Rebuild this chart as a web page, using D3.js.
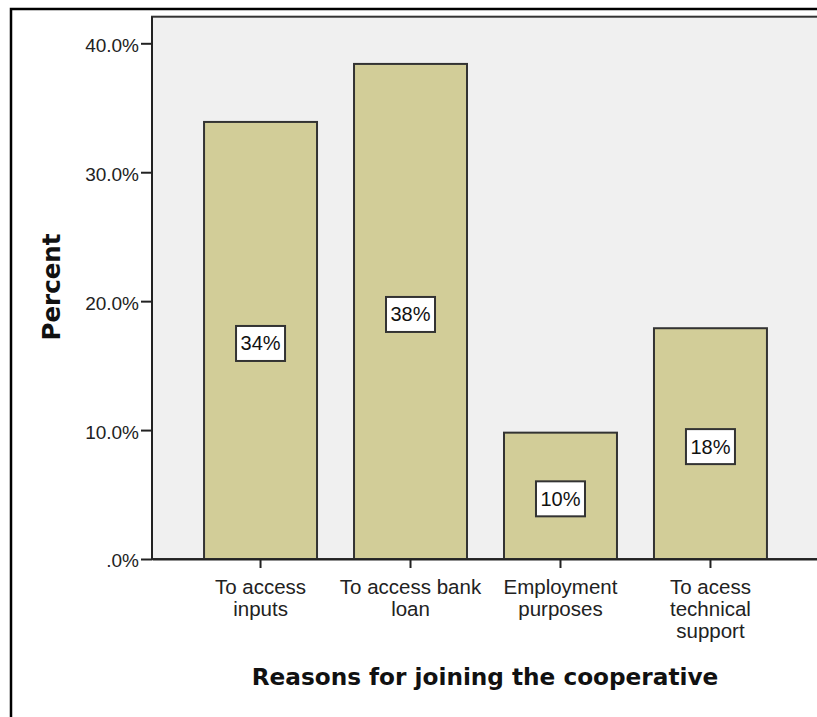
<!DOCTYPE html>
<html><head><meta charset="utf-8">
<script src="https://cdn.jsdelivr.net/npm/d3@7/dist/d3.min.js"></script>
<style>body{margin:0;background:#fff}svg{display:block}</style>
</head><body>
<svg id="c" width="817" height="717"></svg>
<script>
const categories = ["To access\ninputs", "To access bank\nloan", "Employment\npurposes", "To acess\ntechnical\nsupport"];
const percents = [33.9, 38.4, 9.8, 17.9];
const barLabels = ["34%", "38%", "10%", "18%"];
const yTicks = [0, 10, 20, 30, 40];
const xTitle = "Reasons for joining the cooperative";
const yTitle = "Percent";

const svg = d3.select("#c");
const pLeft = 152, pRight = 819, pTop = 16.7, pBottom = 559;
const sans = "Liberation Sans, Arial, sans-serif";

// outer frame
svg.append("rect").attr("x", 11).attr("y", 9).attr("width", 830).attr("height", 740)
  .attr("fill", "#fff").attr("stroke", "#000").attr("stroke-width", 2.5);

const x = d3.scaleBand().domain(categories).range([pLeft, pRight]).paddingInner(0.2467).paddingOuter(0.347);
const y = d3.scaleLinear().domain([0, 40]).range([pBottom, 43.3]);

// panel
svg.append("rect").attr("x", pLeft).attr("y", pTop).attr("width", pRight - pLeft).attr("height", pBottom - pTop)
  .attr("fill", "#f0f0f0").attr("stroke", "#333").attr("stroke-width", 2);

// bars
svg.selectAll("rect.bar").data(percents).join("rect").attr("class", "bar")
  .attr("x", (d, i) => x(categories[i])).attr("width", x.bandwidth())
  .attr("y", d => y(d)).attr("height", d => y(0) - y(d))
  .attr("fill", "#d2cd98").attr("stroke", "#333").attr("stroke-width", 2);

// y axis
const yAxis = d3.axisLeft(y).tickValues(yTicks).tickSizeInner(11).tickSizeOuter(0).tickPadding(2)
  .tickFormat(d => d === 0 ? ".0%" : d.toFixed(1) + "%");
const ya = svg.append("g").attr("transform", `translate(${pLeft},0)`).call(yAxis);
ya.select(".domain").remove();
ya.selectAll(".tick line").attr("stroke", "#222").attr("stroke-width", 2);
ya.selectAll(".tick text").attr("font-family", sans).attr("font-size", 19).attr("fill", "#222").attr("dy", "0.42em");

// x axis
const xAxis = d3.axisBottom(x).tickSizeInner(9).tickSizeOuter(0).tickFormat("");
const xa = svg.append("g").attr("transform", `translate(0,${pBottom})`).call(xAxis);
xa.select(".domain").attr("stroke", "#222").attr("stroke-width", 2);
xa.selectAll(".tick line").attr("stroke", "#222").attr("stroke-width", 2);

// y axis line
svg.append("line").attr("x1", pLeft).attr("x2", pLeft).attr("y1", pTop).attr("y2", pBottom)
  .attr("stroke", "#222").attr("stroke-width", 2);

// category labels
categories.forEach(c => {
  const lines = c.split("\n");
  const t = svg.append("text").attr("text-anchor", "middle")
    .attr("font-family", sans).attr("font-size", 20.5).attr("fill", "#222");
  lines.forEach((l, j) => {
    t.append("tspan").attr("x", x(c) + x.bandwidth() / 2).attr("y", 594 + j * 22).text(l);
  });
});

// bar value labels
percents.forEach((v, i) => {
  const cx = x(categories[i]) + x.bandwidth() / 2;
  const cy = (y(v) + y(0)) / 2 + 3;
  svg.append("rect").attr("x", cx - 24.5).attr("y", cy - 17.5).attr("width", 49).attr("height", 35)
    .attr("fill", "#fff").attr("stroke", "#333").attr("stroke-width", 2);
  svg.append("text").attr("x", cx).attr("y", cy + 7).attr("text-anchor", "middle")
    .attr("font-family", sans).attr("font-size", 20).attr("fill", "#111")
    .text(barLabels[i]);
});

// titles
svg.append("text").attr("x", 485).attr("y", 685).attr("text-anchor", "middle")
  .attr("font-family", "DejaVu Sans, sans-serif").attr("font-weight", "bold").attr("font-size", 23.2)
  .attr("fill", "#111").text(xTitle);
svg.append("text").attr("transform", "translate(60,287) rotate(-90)").attr("text-anchor", "middle")
  .attr("font-family", "DejaVu Sans, sans-serif").attr("font-weight", "bold").attr("font-size", 24.5)
  .attr("fill", "#111").text(yTitle);
</script>
</body></html>
